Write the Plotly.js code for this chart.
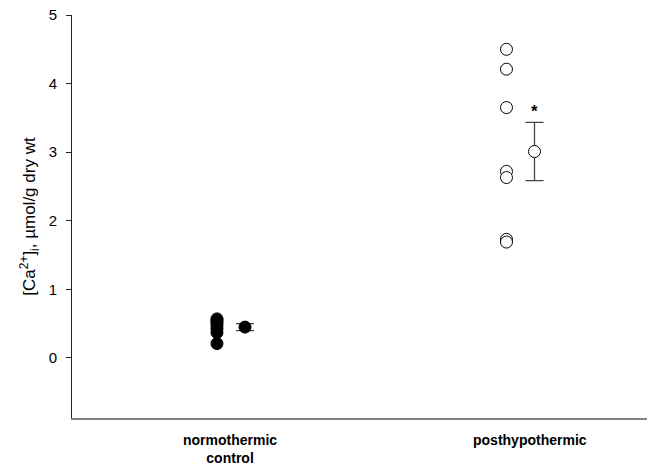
<!DOCTYPE html>
<html>
<head>
<meta charset="utf-8">
<script src="https://cdn.plot.ly/plotly-3.0.1.min.js"></script>
<style>html,body{margin:0;padding:0;background:#fff;}#chart{width:647px;height:465px;}</style>
</head>
<body>
<div id="chart"></div>
<script>
// Data
const groups = ["normothermic<br>control", "posthypothermic"];
const normothermic = [0.57, 0.55, 0.52, 0.48, 0.43, 0.37, 0.21];
const posthypothermic = [4.50, 4.21, 3.65, 2.72, 2.63, 1.73, 1.69];
const means = [0.45, 3.01];
const sems = [0.05, 0.425];
const yTicks = [0, 1, 2, 3, 4, 5];

// layout positions (group index, offsets)
const groupPos = [1, 2];
const off = 0.0484;
const labelPos = [0.997, 2.033];

const font = "Liberation Sans, Arial, sans-serif";

const traces = [
  {
    x: normothermic.map(() => groupPos[0] - off), y: normothermic,
    type: "scatter", mode: "markers", hoverinfo: "skip",
    marker: {size: 12, color: "#000", line: {color: "#000", width: 1}}
  },
  {
    x: posthypothermic.map(() => groupPos[1] - off), y: posthypothermic,
    type: "scatter", mode: "markers", hoverinfo: "skip",
    marker: {size: 12, color: "#fff", line: {color: "#000", width: 1}}
  },
  {
    x: [groupPos[0] + off], y: [means[0]],
    type: "scatter", mode: "markers",
    error_y: {type: "data", array: [sems[0]], visible: true, color: "#444", thickness: 1.3, width: 9},
    marker: {size: 12, color: "#000", line: {color: "#000", width: 1}}
  },
  {
    x: [groupPos[1] + off], y: [means[1]],
    type: "scatter", mode: "markers",
    error_y: {type: "data", array: [sems[1]], visible: true, color: "#444", thickness: 1.3, width: 9},
    marker: {size: 12, color: "#fff", line: {color: "#000", width: 1}}
  }
];

const annotations = groups.map((g, i) => ({
  x: labelPos[i], y: 0, xref: "x", yref: "paper",
  yanchor: "top", xanchor: "center", yshift: -12,
  text: "<b>" + g + "</b>", showarrow: false,
  font: {family: font, size: 14, color: "#000"}
}));
annotations.push({
  x: groupPos[1] + off, y: 3.65, xref: "x", yref: "y",
  text: "<b>*</b>", showarrow: false, yshift: -4,
  font: {family: font, size: 17, color: "#000"}
});

const layout = {
  width: 647, height: 465,
  margin: {l: 72, r: 0, t: 15, b: 47},
  paper_bgcolor: "#fff", plot_bgcolor: "#fff",
  showlegend: false,
  font: {family: font, color: "#000"},
  xaxis: {
    range: [0.4508, 2.437], showgrid: false, zeroline: false,
    showline: true, linecolor: "#808080", linewidth: 2,
    showticklabels: false, ticks: "", fixedrange: true
  },
  yaxis: {
    range: [-0.875, 5], showgrid: false, zeroline: false,
    showline: true, linecolor: "#222", linewidth: 1,
    tickvals: yTicks, ticktext: yTicks.map(String),
    ticks: "outside", ticklen: 5, tickcolor: "#222", tickwidth: 1,
    ticklabelstandoff: 6,
    tickfont: {family: font, size: 15, color: "#000"},
    title: {text: "[Ca<sup>2+</sup>]<sub>i</sub>, µmol/g dry wt", font: {family: font, size: 17, color: "#000"}, standoff: 8},
    automargin: false
  },
  annotations: annotations
};

Plotly.newPlot("chart", traces, layout, {displayModeBar: false, staticPlot: true});
</script>
</body>
</html>
